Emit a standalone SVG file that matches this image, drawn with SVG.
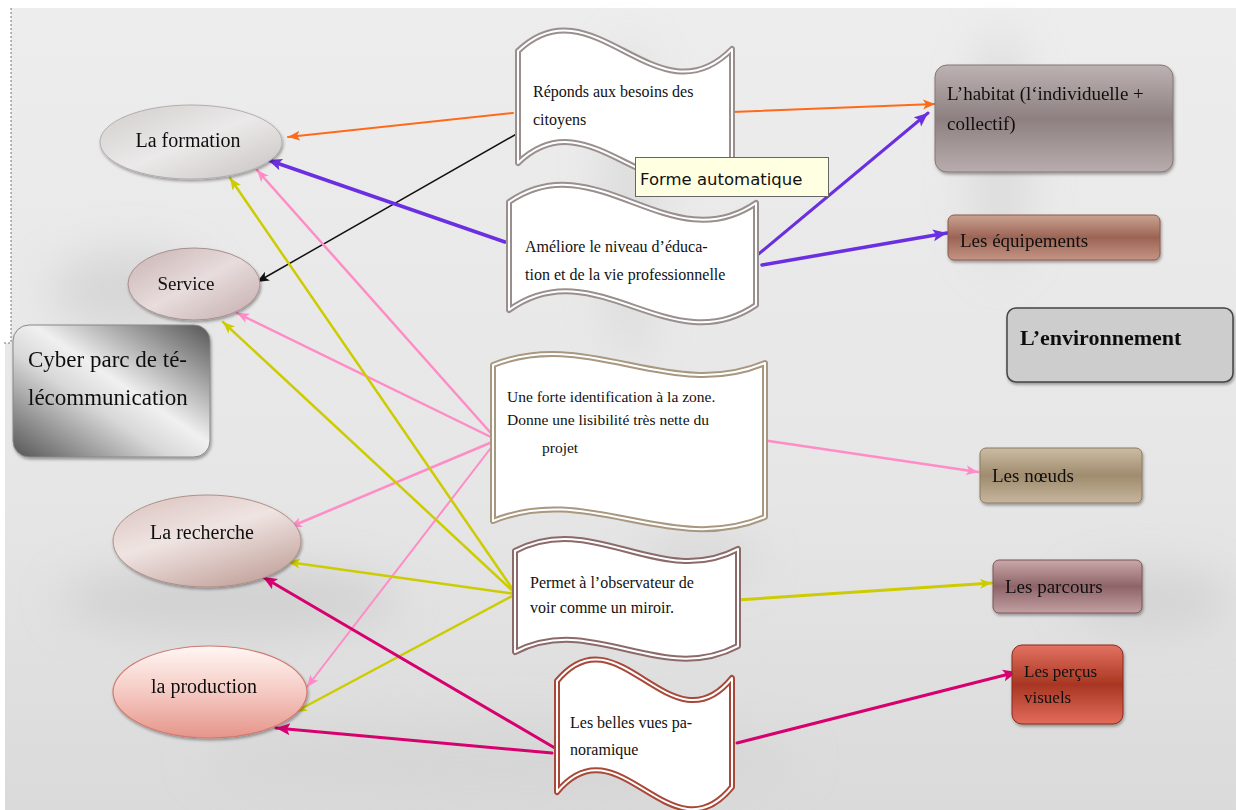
<svg xmlns="http://www.w3.org/2000/svg" width="1236" height="810" viewBox="0 0 1236 810">
<style>
  .t { font-family: "Liberation Serif", "Times New Roman", serif; fill: #111; }
  .ts { font-size: 16px; }
  .tm { font-size: 19px; }
  .con { fill: none; stroke-linecap: round; }
  .wave-out { fill: #fff; stroke-width: 6; stroke-linejoin: round; }
  .wave-in { fill: none; stroke: #fff; stroke-width: 2; stroke-linejoin: round; }
</style>
<defs>
  <linearGradient id="bg" x1="0" y1="0" x2="0" y2="1">
    <stop offset="0" stop-color="#ededed"/>
    <stop offset="0.6" stop-color="#e6e6e6"/>
    <stop offset="1" stop-color="#dadada"/>
  </linearGradient>
  <filter id="blur" x="-50%" y="-50%" width="200%" height="200%"><feGaussianBlur stdDeviation="22"/></filter>
  <filter id="sh" x="-20%" y="-20%" width="140%" height="150%"><feDropShadow dx="1" dy="2" stdDeviation="1.5" flood-color="#000" flood-opacity="0.35"/></filter>
  <linearGradient id="gForm" x1="0" y1="0" x2="1" y2="1">
    <stop offset="0" stop-color="#d0cccc"/>
    <stop offset="0.5" stop-color="#ebe9e9"/>
    <stop offset="1" stop-color="#c8c2c2"/>
  </linearGradient>
  <linearGradient id="gServ" x1="0" y1="0" x2="1" y2="1">
    <stop offset="0" stop-color="#c8b2b2"/>
    <stop offset="0.5" stop-color="#e8dcdc"/>
    <stop offset="1" stop-color="#c4acac"/>
  </linearGradient>
  <linearGradient id="gRech" x1="0" y1="0" x2="0.6" y2="1">
    <stop offset="0" stop-color="#d8c0bc"/>
    <stop offset="0.5" stop-color="#efe4e2"/>
    <stop offset="1" stop-color="#c8aaa4"/>
  </linearGradient>
  <linearGradient id="gProd" x1="0" y1="0" x2="0" y2="1">
    <stop offset="0" stop-color="#fff6f4"/>
    <stop offset="0.45" stop-color="#f6cfc8"/>
    <stop offset="1" stop-color="#e6958a"/>
  </linearGradient>
  <linearGradient id="gCyber" x1="1" y1="0" x2="0" y2="1">
    <stop offset="0" stop-color="#555"/>
    <stop offset="0.45" stop-color="#f0f0f0"/>
    <stop offset="0.6" stop-color="#d8d8d8"/>
    <stop offset="1" stop-color="#555"/>
  </linearGradient>
  <linearGradient id="gHab" x1="0" y1="0" x2="0" y2="1">
    <stop offset="0" stop-color="#bdb2b2"/>
    <stop offset="0.5" stop-color="#8e8080"/>
    <stop offset="1" stop-color="#b8acac"/>
  </linearGradient>
  <linearGradient id="gEqu" x1="0" y1="0" x2="0" y2="1">
    <stop offset="0" stop-color="#caa292"/>
    <stop offset="0.5" stop-color="#9c6454"/>
    <stop offset="1" stop-color="#c49484"/>
  </linearGradient>
  <linearGradient id="gNoe" x1="0" y1="0" x2="0" y2="1">
    <stop offset="0" stop-color="#cabca4"/>
    <stop offset="0.5" stop-color="#a08c6e"/>
    <stop offset="1" stop-color="#c6b69e"/>
  </linearGradient>
  <linearGradient id="gPar" x1="0" y1="0" x2="0" y2="1">
    <stop offset="0" stop-color="#caa8aa"/>
    <stop offset="0.5" stop-color="#8e6468"/>
    <stop offset="1" stop-color="#c2a0a2"/>
  </linearGradient>
  <linearGradient id="gPer" x1="0" y1="0" x2="0" y2="1">
    <stop offset="0" stop-color="#e47262"/>
    <stop offset="0.5" stop-color="#a83622"/>
    <stop offset="1" stop-color="#e26c5c"/>
  </linearGradient>
  <marker id="aOr" markerUnits="userSpaceOnUse" markerWidth="14" markerHeight="12" refX="12" refY="5" orient="auto"><path d="M0,0 L12,5 L0,10 L3,5 Z" fill="#ff6a1a"/></marker>
  <marker id="aBk" markerUnits="userSpaceOnUse" markerWidth="14" markerHeight="12" refX="12" refY="5" orient="auto"><path d="M0,0 L12,5 L0,10 L3,5 Z" fill="#111"/></marker>
  <marker id="aPu" markerUnits="userSpaceOnUse" markerWidth="16" markerHeight="14" refX="14" refY="6" orient="auto"><path d="M0,0 L14,6 L0,12 L3,6 Z" fill="#6a2fe0"/></marker>
  <marker id="aPk" markerUnits="userSpaceOnUse" markerWidth="14" markerHeight="12" refX="12" refY="5" orient="auto"><path d="M0,0 L12,5 L0,10 L3,5 Z" fill="#ff8cc6"/></marker>
  <marker id="aYe" markerUnits="userSpaceOnUse" markerWidth="14" markerHeight="12" refX="12" refY="5" orient="auto"><path d="M0,0 L12,5 L0,10 L3,5 Z" fill="#cccc00"/></marker>
  <marker id="aMg" markerUnits="userSpaceOnUse" markerWidth="16" markerHeight="14" refX="14" refY="6" orient="auto"><path d="M0,0 L14,6 L0,12 L3,6 Z" fill="#d6006e"/></marker>
</defs>

<!-- background -->
<g id="background">
  <rect x="0" y="0" width="1236" height="810" fill="#fff"/>
  <path d="M11,8 H1236 V810 H5 V343 H11 Z" fill="url(#bg)"/>
  <g filter="url(#blur)" opacity="0.55">
    <ellipse cx="230" cy="600" rx="170" ry="35" fill="#c4c4c4"/>
    <ellipse cx="130" cy="290" rx="80" ry="40" fill="#c8c8c8"/>
    <ellipse cx="630" cy="200" rx="25" ry="160" fill="#cfcfcf"/>
    <ellipse cx="1000" cy="150" rx="30" ry="120" fill="#d0d0d0"/>
    <ellipse cx="1150" cy="600" rx="80" ry="30" fill="#c8c8c8"/>
    <ellipse cx="700" cy="560" rx="60" ry="20" fill="#cccccc"/>
    <ellipse cx="500" cy="760" rx="300" ry="40" fill="#d2d2d2"/>
  </g>
  <path d="M11,8 V343 H4" fill="none" stroke="#777" stroke-width="1" stroke-dasharray="2,2"/>
</g>

<!-- connectors -->
<g id="connectors">
  <line class="con" x1="513" y1="113" x2="288" y2="137" stroke="#ff6a1a" stroke-width="2" marker-end="url(#aOr)"/>
  <line class="con" x1="732" y1="112" x2="935" y2="104" stroke="#ff6a1a" stroke-width="2" marker-end="url(#aOr)"/>
  <line class="con" x1="520" y1="132" x2="257" y2="282" stroke="#111" stroke-width="1.5" marker-end="url(#aBk)"/>
  <line class="con" x1="505" y1="242" x2="268" y2="160" stroke="#6a2fe0" stroke-width="3.5" marker-end="url(#aPu)"/>
  <line class="con" x1="755" y1="257" x2="928" y2="113" stroke="#6a2fe0" stroke-width="3" marker-end="url(#aPu)"/>
  <line class="con" x1="762" y1="265" x2="947" y2="233" stroke="#6a2fe0" stroke-width="3.5" marker-end="url(#aPu)"/>
  <line class="con" x1="497" y1="440" x2="257" y2="170" stroke="#ff8cc6" stroke-width="2.5" marker-end="url(#aPk)"/>
  <line class="con" x1="497" y1="440" x2="237" y2="313" stroke="#ff8cc6" stroke-width="2.5" marker-end="url(#aPk)"/>
  <line class="con" x1="497" y1="440" x2="290" y2="527" stroke="#ff8cc6" stroke-width="2.5" marker-end="url(#aPk)"/>
  <line class="con" x1="497" y1="440" x2="307" y2="687" stroke="#ff8cc6" stroke-width="2" marker-end="url(#aPk)"/>
  <line class="con" x1="762" y1="440" x2="978" y2="472" stroke="#ff8cc6" stroke-width="2.5" marker-end="url(#aPk)"/>
  <line class="con" x1="516" y1="594" x2="230" y2="178" stroke="#cccc00" stroke-width="2.5" marker-end="url(#aYe)"/>
  <line class="con" x1="516" y1="594" x2="223" y2="322" stroke="#cccc00" stroke-width="2.5" marker-end="url(#aYe)"/>
  <line class="con" x1="516" y1="594" x2="288" y2="562" stroke="#cccc00" stroke-width="2.5" marker-end="url(#aYe)"/>
  <line class="con" x1="516" y1="594" x2="295" y2="712" stroke="#cccc00" stroke-width="2.5" marker-end="url(#aYe)"/>
  <line class="con" x1="737" y1="600" x2="992" y2="583" stroke="#cccc00" stroke-width="3" marker-end="url(#aYe)"/>
  <line class="con" x1="560" y1="751" x2="263" y2="577" stroke="#d6006e" stroke-width="3" marker-end="url(#aMg)"/>
  <line class="con" x1="552" y1="753" x2="276" y2="728" stroke="#d6006e" stroke-width="3" marker-end="url(#aMg)"/>
  <line class="con" x1="737" y1="743" x2="1017" y2="672" stroke="#d6006e" stroke-width="3" marker-end="url(#aMg)"/>
</g>

<!-- left nodes -->
<g id="n-formation" filter="url(#sh)">
  <ellipse cx="191" cy="142" rx="91" ry="37" fill="url(#gForm)" stroke="#b4aeae" stroke-width="1"/>
  <text class="t" x="188" y="147" font-size="20" text-anchor="middle">La formation</text>
</g>
<g id="n-service" filter="url(#sh)">
  <ellipse cx="194" cy="284" rx="66" ry="36" fill="url(#gServ)" stroke="#a89090" stroke-width="1"/>
  <text class="t" x="186" y="290" font-size="19" text-anchor="middle">Service</text>
</g>
<g id="n-cyber" filter="url(#sh)">
  <rect x="13" y="325" width="197" height="132" rx="16" fill="url(#gCyber)" stroke="#888" stroke-width="1"/>
  <text class="t" x="28" y="367" font-size="23">Cyber parc de té-</text>
  <text class="t" x="28" y="405" font-size="23">lécommunication</text>
</g>
<g id="n-recherche" filter="url(#sh)">
  <ellipse cx="207" cy="541" rx="94" ry="46" fill="url(#gRech)" stroke="#b09088" stroke-width="1"/>
  <text class="t" x="202" y="539" font-size="20" text-anchor="middle">La recherche</text>
</g>
<g id="n-production" filter="url(#sh)">
  <ellipse cx="210" cy="692" rx="97" ry="46" fill="url(#gProd)" stroke="#d07a70" stroke-width="1.2"/>
  <text class="t" x="204" y="693" font-size="20" text-anchor="middle">la production</text>
</g>

<!-- wave nodes -->
<g id="w-reponds">
  <path class="wave-out" stroke="#9a8f8f" d="M518,51 C593,-21 657,125 732,49 L732,158 C657,234 593,91 518,163 Z"/>
  <path class="wave-in" d="M518,51 C593,-21 657,125 732,49 L732,158 C657,234 593,91 518,163 Z"/>
  <text class="t ts" x="533" y="97">Réponds aux besoins des</text>
  <text class="t ts" x="533" y="125">citoyens</text>
</g>
<g id="w-ameliore">
  <path class="wave-out" stroke="#9a8f8f" d="M509,202 C595,142 670,262 756,203 L756,305 C670,364 595,248 509,310 Z"/>
  <path class="wave-in" d="M509,202 C595,142 670,262 756,203 L756,305 C670,364 595,248 509,310 Z"/>
  <text class="t ts" x="525" y="252">Améliore le niveau d’éduca-</text>
  <text class="t ts" x="525" y="280">tion et de la vie professionnelle</text>
</g>
<g id="w-forte">
  <path class="wave-out" stroke="#a89880" d="M493,365 C588,327 670,403 765,363 L765,517 C670,557 588,482 493,521 Z"/>
  <path class="wave-in" d="M493,365 C588,327 670,403 765,363 L765,517 C670,557 588,482 493,521 Z"/>
  <text class="t" x="507" y="402" font-size="15.5">Une forte identification à la zone.</text>
  <text class="t" x="507" y="425" font-size="15.5">Donne une lisibilité très nette du</text>
  <text class="t" x="542" y="453" font-size="15.5">projet</text>
</g>
<g id="w-permet">
  <path class="wave-out" stroke="#8c6a6a" d="M515,551 C593,510 660,590 738,549 L738,646 C660,687 593,612 515,652 Z"/>
  <path class="wave-in" d="M515,551 C593,510 660,590 738,549 L738,646 C660,687 593,612 515,652 Z"/>
  <text class="t ts" x="530" y="588">Permet à l’observateur de</text>
  <text class="t ts" x="530" y="613">voir comme un miroir.</text>
</g>
<g id="w-belles">
  <path class="wave-out" stroke="#a84838" d="M557,681 C618,607 671,753 732,678 L732,787 C671,862 618,718 557,792 Z"/>
  <path class="wave-in" d="M557,681 C618,607 671,753 732,678 L732,787 C671,862 618,718 557,792 Z"/>
  <text class="t ts" x="570" y="728">Les belles vues pa-</text>
  <text class="t ts" x="570" y="755">noramique</text>
</g>

<!-- right nodes -->
<g id="n-habitat" filter="url(#sh)">
  <rect x="935" y="65" width="238" height="107" rx="12" fill="url(#gHab)" stroke="#857676" stroke-width="1"/>
  <text class="t tm" x="947" y="100">L’habitat (l‘individuelle +</text>
  <text class="t tm" x="947" y="130">collectif)</text>
</g>
<g id="n-equipements" filter="url(#sh)">
  <rect x="948" y="215" width="212" height="45" rx="6" fill="url(#gEqu)" stroke="#8a5a4c" stroke-width="1"/>
  <text class="t tm" x="960" y="247">Les équipements</text>
</g>
<g id="n-environnement" filter="url(#sh)">
  <rect x="1007" y="308" width="226" height="74" rx="9" fill="#cdcdcd" stroke="#444" stroke-width="1.5"/>
  <text class="t" x="1020" y="345" font-size="22" font-weight="bold">L’environnement</text>
</g>
<g id="n-noeuds" filter="url(#sh)">
  <rect x="980" y="448" width="162" height="55" rx="6" fill="url(#gNoe)" stroke="#8c7a60" stroke-width="1"/>
  <text class="t tm" x="992" y="482">Les nœuds</text>
</g>
<g id="n-parcours" filter="url(#sh)">
  <rect x="993" y="560" width="149" height="53" rx="6" fill="url(#gPar)" stroke="#7a5458" stroke-width="1"/>
  <text class="t tm" x="1005" y="593">Les parcours</text>
</g>
<g id="n-percus" filter="url(#sh)">
  <rect x="1012" y="645" width="111" height="79" rx="10" fill="url(#gPer)" stroke="#8a2a1a" stroke-width="1"/>
  <text class="t" x="1024" y="677" font-size="17">Les perçus</text>
  <text class="t" x="1024" y="703" font-size="17">visuels</text>
</g>

<!-- tooltip -->
<g id="tooltip">
  <rect x="635.5" y="157.5" width="193" height="39" fill="#ffffe1" stroke="#666" stroke-width="1"/>
  <text x="640" y="185" font-family="'DejaVu Sans', Verdana, sans-serif" font-size="16.5" fill="#111">Forme automatique</text>
</g>
</svg>
